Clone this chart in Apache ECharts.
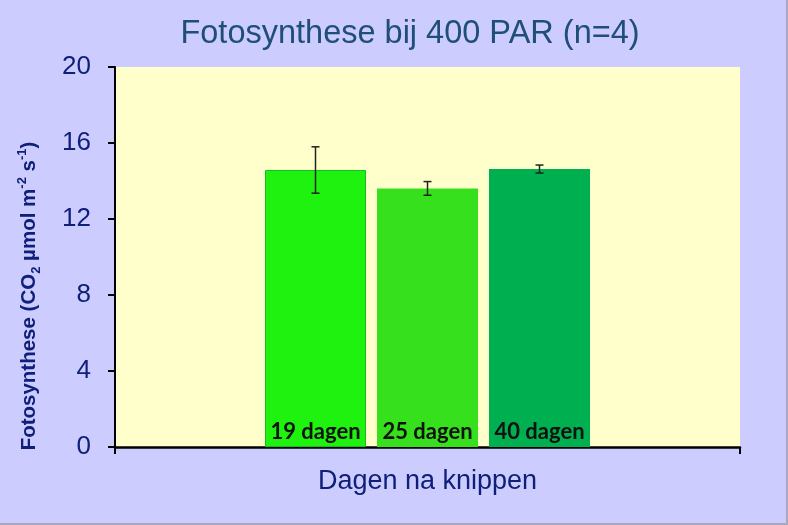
<!DOCTYPE html>
<html>
<head>
<meta charset="utf-8">
<script src="https://cdn.jsdelivr.net/npm/echarts@6/dist/echarts.min.js"></script>
<style>
html,body{margin:0;padding:0;background:#ccccff;}
#chart{width:788px;height:525px;box-sizing:border-box;border-right:2px solid #a8a8c0;border-bottom:2px solid #a8a8c0;}
</style>
</head>
<body>
<div id="chart"></div>
<script>
var categories = ['19 dagen', '25 dagen', '40 dagen'];
var values = [14.58, 13.61, 14.63];
var errors = [1.22, 0.36, 0.21];
var barColors = ['#1ef20e', '#36e01c', '#00af50'];
var yTicks = [0, 4, 8, 12, 16, 20];

var chart = echarts.init(document.getElementById('chart'));
var BAR_W = 101, GAP = 11;
var series = categories.map(function (name, i) {
  return {
    type: 'bar',
    name: name,
    data: [values[i]],
    barWidth: BAR_W,
    barGap: (GAP / BAR_W * 100) + '%',
    itemStyle: { color: barColors[i], borderColor: i === 0 ? '#10c020' : barColors[i], borderWidth: i === 0 ? 1 : 0 },
    label: {
      show: true, position: 'insideBottom', distance: 4,
      formatter: name, color: '#111', fontFamily: 'Lato', fontWeight: 'bold', fontSize: 22
    },
    z: 2
  };
});
series.push({
  type: 'custom',
  z: 5,
  data: [0],
  renderItem: function (params, api) {
    var children = [];
    for (var i = 0; i < values.length; i++) {
      var c = api.coord([0, values[i]]);
      var x = c[0] + (i - 1) * (BAR_W + GAP);
      var top = api.coord([0, values[i] + errors[i]])[1];
      var bot = api.coord([0, values[i] - errors[i]])[1];
      var st = { stroke: '#222', lineWidth: 1.5 };
      children.push({ type: 'line', shape: { x1: x, y1: top, x2: x, y2: bot }, style: st });
      children.push({ type: 'line', shape: { x1: x - 4, y1: top, x2: x + 4, y2: top }, style: st });
      children.push({ type: 'line', shape: { x1: x - 4, y1: bot, x2: x + 4, y2: bot }, style: st });
    }
    return { type: 'group', children: children };
  }
});

var navy = '#10207a';
chart.setOption({
  backgroundColor: '#ccccff',
  animation: false,
  title: {
    text: 'Fotosynthese bij 400 PAR (n=4)',
    left: 405, top: 13, textAlign: 'center',
    textStyle: { color: '#1f4e79', fontFamily: 'Liberation Sans', fontSize: 32.5, fontWeight: 'normal' }
  },
  grid: { left: 115, right: 46, top: 67, bottom: 76, backgroundColor: '#ffffcc', show: true, borderWidth: 0 },
  xAxis: {
    type: 'category',
    data: [''],
    name: 'Dagen na knippen',
    nameLocation: 'middle',
    nameGap: 21,
    nameTextStyle: { color: navy, fontFamily: 'Liberation Sans', fontSize: 27 },
    axisLine: { lineStyle: { color: '#000', width: 2.5 } },
    axisTick: { show: true, length: 7, lineStyle: { color: '#000', width: 2 } },
    axisLabel: { show: false }
  },
  yAxis: {
    type: 'value',
    min: 0, max: 20, interval: 4,
    name: '{a|Fotosynthese (CO}{sub|2}{a| µmol m}{sup|-2}{a| s}{sup|-1}{a|)}',
    nameLocation: 'middle',
    nameGap: 72,
    nameTextStyle: {
      color: navy, fontFamily: 'Liberation Sans', fontSize: 20.5, fontWeight: 'bold',
      padding: [0, 78, 0, 0],
      rich: {
        a: { color: navy, fontFamily: 'Liberation Sans', fontSize: 20.5, fontWeight: 'bold', lineHeight: 27, verticalAlign: 'middle' },
        sub: { color: navy, fontFamily: 'Liberation Sans', fontSize: 13, fontWeight: 'bold', lineHeight: 27, verticalAlign: 'bottom' },
        sup: { color: navy, fontFamily: 'Liberation Sans', fontSize: 13, fontWeight: 'bold', lineHeight: 27, verticalAlign: 'top' }
      }
    },
    axisLine: { show: true, lineStyle: { color: '#000', width: 2 } },
    axisTick: { show: true, length: 7, lineStyle: { color: '#000', width: 2 } },
    splitLine: { show: false },
    axisLabel: {
      color: navy, fontFamily: 'Liberation Sans', fontSize: 26, margin: 24,
      formatter: function (v) { return yTicks.indexOf(v) >= 0 ? String(v) : ''; }
    }
  },
  series: series
});
</script>
</body>
</html>
